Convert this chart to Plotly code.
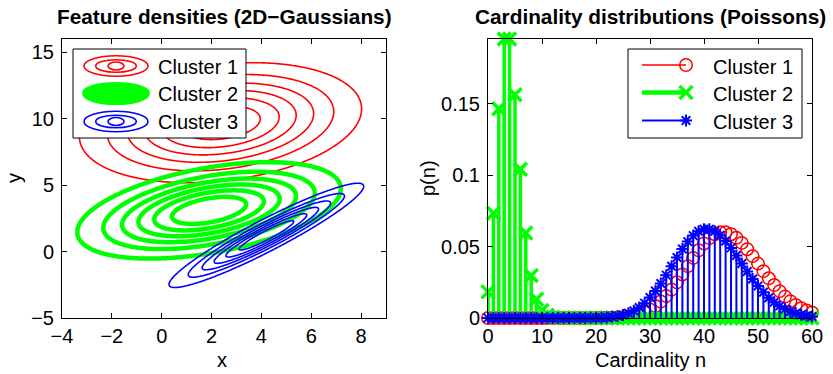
import numpy as np
import plotly.graph_objects as go

W, H = 833, 374

# ---------------- data ----------------
cluster_names = ["Cluster 1", "Cluster 2", "Cluster 3"]
cluster_colors = ["#ff0000", "#00ff00", "#0000ff"]

# 2D Gaussian parameters
gauss_mean_x = [2.36, 1.9, 4.2]
gauss_mean_y = [9.7, 3.1, 1.22]
gauss_sigma_x = [2.87, 2.68, 1.98]
gauss_sigma_y = [2.29, 1.84, 1.99]
gauss_rho = [0.23, 0.45, 0.94]
contour_levels = [1/7, 2/7, 3/7, 4/7, 5/7, 6/7]  # fraction of peak density

# cardinality distributions p(n), n = 0..60
n_values = list(range(61))
p_cluster1 = [0, 0, 0, 0, 0, 0, 0, 0, 0, 0,
              0, 0, 0, 0, 0, 0, 0, 0, 0, 0,
              0, 0.0001, 0.0001, 0.0002, 0.0004, 0.0006, 0.0010, 0.0017, 0.0027, 0.0040,
              0.0059, 0.0084, 0.0115, 0.0154, 0.0199, 0.0250, 0.0305, 0.0363, 0.0421, 0.0474,
              0.0522, 0.0560, 0.0587, 0.0600, 0.0600, 0.0587, 0.0562, 0.0526, 0.0482, 0.0433,
              0.0381, 0.0328, 0.0278, 0.0231, 0.0188, 0.0150, 0.0118, 0.0091, 0.0069, 0.0052,
              0.0038]
p_cluster2 = [0.0183, 0.0733, 0.1465, 0.1954, 0.1954, 0.1563, 0.1042, 0.0595, 0.0298, 0.0132,
              0.0053, 0.0019, 0.0006, 0.0002, 0.0001, 0, 0, 0, 0, 0,
              0, 0, 0, 0, 0, 0, 0, 0, 0, 0,
              0, 0, 0, 0, 0, 0, 0, 0, 0, 0,
              0, 0, 0, 0, 0, 0, 0, 0, 0, 0,
              0, 0, 0, 0, 0, 0, 0, 0, 0, 0,
              0]
p_cluster3 = [0, 0, 0, 0, 0, 0, 0, 0, 0, 0,
              0, 0, 0, 0, 0, 0, 0, 0, 0, 0.0001,
              0.0001, 0.0002, 0.0004, 0.0008, 0.0013, 0.0021, 0.0033, 0.0050, 0.0074, 0.0104,
              0.0143, 0.0189, 0.0242, 0.0300, 0.0362, 0.0424, 0.0483, 0.0535, 0.0577, 0.0607,
              0.0622, 0.0622, 0.0607, 0.0579, 0.0539, 0.0491, 0.0438, 0.0382, 0.0326, 0.0273,
              0.0224, 0.0180, 0.0142, 0.0110, 0.0083, 0.0062, 0.0046, 0.0033, 0.0023, 0.0016,
              0.0011]
p_clusters = [p_cluster1, p_cluster2, p_cluster3]

left_xticks = [-4, -2, 0, 2, 4, 6, 8]
left_yticks = [-5, 0, 5, 10, 15]
right_xticks = [0, 10, 20, 30, 40, 50, 60]
right_yticks = [0, 0.05, 0.1, 0.15]

# ---------------- styles ----------------
FONT = "Liberation Sans, Arial, Helvetica, sans-serif"
contour_widths = [1.6, 4.5, 1.6]
stem_symbols = ["circle-open", "x-thin-open", "asterisk-open"]
stem_msize = [12.5, 13, 10]
stem_mlw = [1.5, 3.5, 2.0]
stem_lw = [0, 3.5, 2.0]
leg_lw = [1.6, 4.5, 1.8]

fig = go.Figure()

# ---- left: contour plots of the Gaussians ----
xg = np.linspace(-4, 9, 301)
yg = np.linspace(-5, 16, 481)
XX, YY = np.meshgrid(xg, yg)
for i in range(3):
    dx = (XX - gauss_mean_x[i]) / gauss_sigma_x[i]
    dy = (YY - gauss_mean_y[i]) / gauss_sigma_y[i]
    r = gauss_rho[i]
    q = (dx**2 - 2 * r * dx * dy + dy**2) / (1 - r**2)
    Z = np.exp(-q / 2)
    c = cluster_colors[i]
    fig.add_trace(go.Contour(
        x=xg, y=yg, z=Z, xaxis="x", yaxis="y",
        autocontour=False,
        contours=dict(coloring="lines", start=contour_levels[0],
                      end=contour_levels[-1] + 0.01, size=contour_levels[1] - contour_levels[0]),
        line=dict(width=contour_widths[i], smoothing=0.6),
        colorscale=[[0, c], [1, c]], showscale=False, hoverinfo="skip",
        showlegend=False))

# ---- right: stem plots ----
for i in range(3):
    c = cluster_colors[i]
    vals = p_clusters[i]
    err = None
    if stem_lw[i] > 0:
        err = dict(type="data", symmetric=False, array=[0] * len(vals),
                   arrayminus=vals, width=0, thickness=stem_lw[i], color=c)
    fig.add_trace(go.Scatter(
        x=n_values, y=vals, xaxis="x2", yaxis="y2", mode="markers",
        marker=dict(symbol=stem_symbols[i], size=stem_msize[i], color=c,
                    line=dict(color=c, width=stem_mlw[i])),
        error_y=err, cliponaxis=False, showlegend=False, hoverinfo="skip"))

# ---- legends (drawn in a pixel-space overlay axis) ----
shapes = []
annotations = []
leg_rows = [66.5, 94.0, 122.0]
shapes.append(dict(type="rect", xref="x3", yref="y3", x0=73, x1=246, y0=49, y1=138,
                   line=dict(color="black", width=1), fillcolor="white", layer="below"))
shapes.append(dict(type="rect", xref="x3", yref="y3", x0=628, x1=802, y0=49, y1=138,
                   line=dict(color="black", width=1), fillcolor="white", layer="below"))
ell_sizes = [(32, 10.3), (20.3, 6.3), (8, 4)]
for i in range(3):
    c = cluster_colors[i]
    cy = leg_rows[i] - 0.5
    if i == 1:
        shapes.append(dict(type="circle", xref="x3", yref="y3", x0=116 - 32, x1=116 + 32,
                           y0=cy - 9.5, y1=cy + 9.5, line=dict(color=c, width=4),
                           fillcolor=c, layer="below"))
    else:
        for (a, b) in ell_sizes:
            shapes.append(dict(type="circle", xref="x3", yref="y3", x0=116 - a, x1=116 + a,
                               y0=cy - b, y1=cy + b, line=dict(color=c, width=1.6),
                               layer="below"))
    shapes.append(dict(type="line", xref="x3", yref="y3", x0=642, x1=686,
                       y0=leg_rows[i] - 1.5, y1=leg_rows[i] - 1.5,
                       line=dict(color=c, width=leg_lw[i]), layer="below"))
    fig.add_trace(go.Scatter(
        x=[686], y=[leg_rows[i] - 1.5], xaxis="x3", yaxis="y3", mode="markers",
        marker=dict(symbol=stem_symbols[i], size=stem_msize[i], color=c,
                    line=dict(color=c, width=stem_mlw[i])),
        showlegend=False, hoverinfo="skip"))
    for x0 in (156, 711):
        annotations.append(dict(xref="x3", yref="y3", x=x0, y=leg_rows[i], text=cluster_names[i],
                                showarrow=False, xanchor="left", yanchor="middle",
                                font=dict(family=FONT, size=20, color="black")))

annotations += [
    dict(xref="x3", yref="y3", x=224, y=16, text="<b>Feature densities (2D\u2212Gaussians)</b>",
         showarrow=False, xanchor="center", yanchor="middle",
         font=dict(family=FONT, size=20.8, color="black")),
    dict(xref="x3", yref="y3", x=650, y=16, text="<b>Cardinality distributions (Poissons)</b>",
         showarrow=False, xanchor="center", yanchor="middle",
         font=dict(family=FONT, size=20.8, color="black")),
    dict(xref="x3", yref="y3", x=222, y=360, text="x", showarrow=False,
         xanchor="center", yanchor="middle", font=dict(family=FONT, size=20, color="black")),
    dict(xref="x3", yref="y3", x=650, y=360, text="Cardinality n", showarrow=False,
         xanchor="center", yanchor="middle", font=dict(family=FONT, size=20, color="black")),
    dict(xref="x3", yref="y3", x=14, y=178, text="y", showarrow=False, textangle=-90,
         xanchor="center", yanchor="middle", font=dict(family=FONT, size=20, color="black")),
    dict(xref="x3", yref="y3", x=428, y=178, text="p(n)", showarrow=False, textangle=-90,
         xanchor="center", yanchor="middle", font=dict(family=FONT, size=20, color="black")),
]

axis_common = dict(showline=True, linecolor="black", linewidth=1, mirror="ticks",
                   ticks="inside", ticklen=5, tickwidth=1, tickcolor="black",
                   showgrid=False, zeroline=False, automargin=False,
                   tickfont=dict(family=FONT, size=20, color="black"))

ydom = [1 - 318 / H, 1 - 39 / H]
fig.update_layout(
    width=W, height=H, autosize=False,
    margin=dict(l=0, r=0, t=0, b=0, pad=0, autoexpand=False),
    paper_bgcolor="white", plot_bgcolor="rgba(0,0,0,0)",
    showlegend=False,
    xaxis=dict(domain=[62 / W, 386 / W], anchor="y", range=[-4, 9],
               tickvals=left_xticks, **axis_common),
    yaxis=dict(domain=ydom, anchor="x", range=[-5, 16],
               tickvals=left_yticks, ticklabelstandoff=3, **axis_common),
    xaxis2=dict(domain=[488 / W, 812 / W], anchor="y2", range=[0, 60],
                tickvals=right_xticks, **axis_common),
    yaxis2=dict(domain=ydom, anchor="x2", range=[0, max(p_cluster2)],
                tickvals=right_yticks, ticklabelstandoff=3, **axis_common),
    xaxis3=dict(domain=[0, 1], anchor="y3", range=[0, W], visible=False,
                fixedrange=True, automargin=False),
    yaxis3=dict(domain=[0, 1], anchor="x3", range=[H, 0], visible=False,
                fixedrange=True, automargin=False),
    shapes=shapes, annotations=annotations,
)

fig.write_html("out.html")
